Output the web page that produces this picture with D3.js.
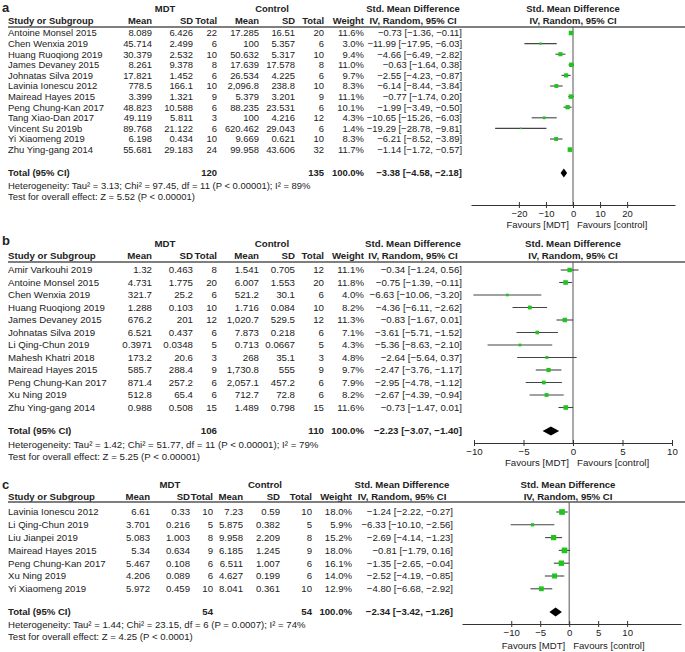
<!DOCTYPE html>
<html>
<head>
<meta charset="utf-8">
<script src="https://d3js.org/d3.v7.min.js"></script>
<style>
  body { margin: 0; background: #fff; }
  svg text { font-family: "Liberation Sans", Arial, sans-serif; fill: #222; }
</style>
</head>
<body>
<div id="chart"></div>
<script>
// ---- panel a data ----
const studiesA = ["Antoine Monsel 2015", "Chen Wenxia 2019", "Huang Ruoqiong 2019", "James Devaney 2015", "Johnatas Silva 2019", "Lavinia Ionescu 2012", "Mairead Hayes 2015", "Peng Chung-Kan 2017", "Tang Xiao-Dan 2017", "Vincent Su 2019b", "Yi Xiaomeng 2019", "Zhu Ying-gang 2014"];
const mdtMeanA = ["8.089", "45.714", "30.379", "8.261", "17.821", "778.5", "3.399", "48.823", "49.119", "89.768", "6.198", "55.681"];
const mdtSdA = ["6.426", "2.499", "2.532", "9.378", "1.452", "166.1", "1.321", "10.588", "5.811", "21.122", "0.434", "29.183"];
const mdtNA = [22, 6, 10, 8, 6, 10, 9, 6, 3, 6, 10, 24];
const ctlMeanA = ["17.285", "100", "50.632", "17.639", "26.534", "2,096.8", "5.379", "88.235", "100", "620.462", "9.669", "99.958"];
const ctlSdA = ["16.51", "5.357", "5.317", "17.578", "4.225", "238.8", "3.201", "23.531", "4.216", "29.043", "0.621", "43.606"];
const ctlNA = [20, 6, 10, 8, 6, 10, 9, 6, 12, 6, 10, 32];
const weightA = [11.6, 3.0, 9.4, 11.0, 9.7, 8.3, 11.1, 10.1, 4.3, 1.4, 8.3, 11.7];
const smdA = [-0.73, -11.99, -4.66, -0.63, -2.55, -6.14, -0.77, -1.99, -10.65, -19.29, -6.21, -1.14];
const loA = [-1.36, -17.95, -6.49, -1.64, -4.23, -8.44, -1.74, -3.49, -15.26, -28.78, -8.52, -1.72];
const hiA = [-0.11, -6.03, -2.82, 0.38, -0.87, -3.84, 0.20, -0.50, -6.03, -9.81, -3.89, -0.57];
const totalA = { mdtN: 120, ctlN: 135, smd: -3.38, lo: -4.58, hi: -2.18 };
const hetA = "Heterogeneity: Tau\u00b2 = 3.13; Chi\u00b2 = 97.45, df = 11 (P < 0.00001); I\u00b2 = 89%";
const testA = "Test for overall effect: Z = 5.52 (P < 0.00001)";
const ticksA = [-20, -10, 0, 10, 20];

// ---- panel b data ----
const studiesB = ["Amir Varkouhi 2019", "Antoine Monsel 2015", "Chen Wenxia 2019", "Huang Ruoqiong 2019", "James Devaney 2015", "Johnatas Silva 2019", "Li Qing-Chun 2019", "Mahesh Khatri 2018", "Mairead Hayes 2015", "Peng Chung-Kan 2017", "Xu Ning 2019", "Zhu Ying-gang 2014"];
const mdtMeanB = ["1.32", "4.731", "321.7", "1.288", "676.2", "6.521", "0.3971", "173.2", "585.7", "871.4", "512.8", "0.988"];
const mdtSdB = ["0.463", "1.775", "25.2", "0.103", "201", "0.437", "0.0348", "20.6", "288.4", "257.2", "65.4", "0.508"];
const mdtNB = [8, 20, 6, 10, 12, 6, 5, 3, 9, 6, 6, 15];
const ctlMeanB = ["1.541", "6.007", "521.2", "1.716", "1,020.7", "7.873", "0.713", "268", "1,730.8", "2,057.1", "712.7", "1.489"];
const ctlSdB = ["0.705", "1.553", "30.1", "0.084", "529.5", "0.218", "0.0667", "35.1", "555", "457.2", "72.8", "0.798"];
const ctlNB = [12, 20, 6, 10, 12, 6, 5, 3, 9, 6, 6, 15];
const weightB = [11.1, 11.8, 4.0, 8.2, 11.3, 7.1, 4.3, 4.8, 9.7, 7.9, 8.2, 11.6];
const smdB = [-0.34, -0.75, -6.63, -4.36, -0.83, -3.61, -5.36, -2.64, -2.47, -2.95, -2.67, -0.73];
const loB = [-1.24, -1.39, -10.06, -6.11, -1.67, -5.71, -8.63, -5.64, -3.76, -4.78, -4.39, -1.47];
const hiB = [0.56, -0.11, -3.20, -2.62, 0.01, -1.52, -2.10, 0.37, -1.17, -1.12, -0.94, 0.01];
const totalB = { mdtN: 106, ctlN: 110, smd: -2.23, lo: -3.07, hi: -1.40 };
const hetB = "Heterogeneity: Tau\u00b2 = 1.42; Chi\u00b2 = 51.77, df = 11 (P < 0.00001); I\u00b2 = 79%";
const testB = "Test for overall effect: Z = 5.25 (P < 0.00001)";
const ticksB = [-10, -5, 0, 5, 10];

// ---- panel c data ----
const studiesC = ["Lavinia Ionescu 2012", "Li Qing-Chun 2019", "Liu Jianpei 2019", "Mairead Hayes 2015", "Peng Chung-Kan 2017", "Xu Ning 2019", "Yi Xiaomeng 2019"];
const mdtMeanC = ["6.61", "3.701", "5.083", "5.34", "5.467", "4.206", "5.972"];
const mdtSdC = ["0.33", "0.216", "1.003", "0.634", "0.108", "0.089", "0.459"];
const mdtNC = [10, 5, 8, 9, 6, 6, 10];
const ctlMeanC = ["7.23", "5.875", "9.958", "6.185", "6.511", "4.627", "8.041"];
const ctlSdC = ["0.59", "0.382", "2.209", "1.245", "1.007", "0.199", "0.361"];
const ctlNC = [10, 5, 8, 9, 6, 6, 10];
const weightC = [18.0, 5.9, 15.2, 18.0, 16.1, 14.0, 12.9];
const smdC = [-1.24, -6.33, -2.69, -0.81, -1.35, -2.52, -4.80];
const loC = [-2.22, -10.10, -4.14, -1.79, -2.65, -4.19, -6.68];
const hiC = [-0.27, -2.56, -1.23, 0.16, -0.04, -0.85, -2.92];
const totalC = { mdtN: 54, ctlN: 54, smd: -2.34, lo: -3.42, hi: -1.26 };
const hetC = "Heterogeneity: Tau\u00b2 = 1.44; Chi\u00b2 = 23.15, df = 6 (P = 0.0007); I\u00b2 = 74%";
const testC = "Test for overall effect: Z = 4.25 (P < 0.0001)";
const ticksC = [-10, -5, 0, 5, 10];

const svg = d3.select("#chart").append("svg")
  .attr("width", 685)
  .attr("height", 652);

const green = "#1fc41f";
const lineCol = "#454545";
const sizeScale = d3.scaleSqrt().domain([0, 20]).range([0, 6]);
const fmt = d3.format(".2f");

function ciText(m, l, h) {
  return `${fmt(m)} [${fmt(l)}, ${fmt(h)}]`;
}

function drawPanel(p) {
  const g = svg.append("g");
  const c = p.cols;
  const fs = p.fs;
  const n = p.studies.length;
  const y = d3.scaleLinear().domain([0, n - 1]).range([p.row0, p.row0 + p.rowStep * (n - 1)]);
  const x = d3.scaleLinear().domain(p.xDomain).range(p.xRange);

  const txt = (tx, ty, s, anchor, bold, size) => g.append("text")
    .attr("x", tx).attr("y", ty).attr("dy", "0.35em")
    .attr("text-anchor", anchor || "start")
    .attr("font-size", (size || fs) + "px")
    .attr("font-weight", bold ? "bold" : "normal")
    .text(s);

  // panel letter and group headings
  txt(2, p.labelY, p.label, "start", true, 13);
  txt(c.mdtHead, p.groupY, "MDT", "middle", true);
  txt(c.ctlHead, p.groupY, "Control", "middle", true);
  txt(c.smdHead, p.groupY, "Std. Mean Difference", "middle", true);
  txt(c.plotHead, p.groupY, "Std. Mean Difference", "middle", true);

  // column headings
  txt(c.study, p.headY, "Study or Subgroup", "start", true);
  txt(c.mMean, p.headY, "Mean", "end", true);
  txt(c.mSd, p.headY, "SD", "end", true);
  txt(c.mN, p.headY, "Total", "end", true);
  txt(c.cMean, p.headY, "Mean", "end", true);
  txt(c.cSd, p.headY, "SD", "end", true);
  txt(c.cN, p.headY, "Total", "end", true);
  txt(c.wt, p.headY, "Weight", "end", true);
  txt(c.smdHead, p.headY, "IV, Random, 95% CI", "middle", true);
  txt(c.plotHead, p.headY, "IV, Random, 95% CI", "middle", true);

  g.append("line")
    .attr("x1", 8).attr("x2", 685)
    .attr("y1", p.lineY).attr("y2", p.lineY)
    .attr("stroke", "#555").attr("stroke-width", 1.4);

  // study rows
  p.studies.forEach((s, i) => {
    const ry = y(i);
    txt(c.study, ry, s);
    txt(c.mMean, ry, p.mdtMean[i], "end");
    txt(c.mSd, ry, p.mdtSd[i], "end");
    txt(c.mN, ry, p.mdtN[i], "end");
    txt(c.cMean, ry, p.ctlMean[i], "end");
    txt(c.cSd, ry, p.ctlSd[i], "end");
    txt(c.cN, ry, p.ctlN[i], "end");
    txt(c.wt, ry, p.weight[i].toFixed(1) + "%", "end");
    txt(c.smd, ry, ciText(p.smd[i], p.lo[i], p.hi[i]), "end");
  });

  // totals
  txt(c.study, p.totalY, "Total (95% CI)", "start", true);
  txt(c.mN, p.totalY, p.total.mdtN, "end", true);
  txt(c.cN, p.totalY, p.total.ctlN, "end", true);
  txt(c.wt, p.totalY, "100.0%", "end", true);
  txt(c.smd, p.totalY, ciText(p.total.smd, p.total.lo, p.total.hi), "end", true);
  txt(c.study, p.hetY, p.het);
  txt(c.study, p.testY, p.test);

  // zero line
  g.append("line")
    .attr("x1", x(0)).attr("x2", x(0))
    .attr("y1", p.lineY).attr("y2", p.axisY)
    .attr("stroke", "#555").attr("stroke-width", 1);

  // CI lines and squares
  g.selectAll(".ci").data(p.studies).enter().append("line")
    .attr("x1", (d, i) => x(p.lo[i]))
    .attr("x2", (d, i) => x(p.hi[i]))
    .attr("y1", (d, i) => y(i)).attr("y2", (d, i) => y(i))
    .attr("stroke", lineCol).attr("stroke-width", 1.1);

  g.selectAll(".sq").data(p.studies).enter().append("rect")
    .attr("x", (d, i) => x(p.smd[i]) - sizeScale(p.weight[i]) / 2)
    .attr("y", (d, i) => y(i) - sizeScale(p.weight[i]) / 2)
    .attr("width", (d, i) => sizeScale(p.weight[i]))
    .attr("height", (d, i) => sizeScale(p.weight[i]))
    .attr("fill", green);

  // pooled diamond
  const t = p.total, dh = 4.5;
  g.append("polygon")
    .attr("points", [
      [x(t.lo), p.totalY], [x(t.smd), p.totalY - dh],
      [x(t.hi), p.totalY], [x(t.smd), p.totalY + dh]
    ].map(q => q.join(",")).join(" "))
    .attr("fill", "#000");

  // axis
  const ax = g.append("g")
    .attr("transform", `translate(0,${p.axisY})`)
    .call(d3.axisBottom(x).tickValues(p.ticks).tickSizeInner(3).tickSizeOuter(0).tickPadding(2));
  ax.select(".domain").attr("stroke", "#333");
  ax.selectAll(".tick line").attr("y1", -3).attr("stroke", "#333");
  ax.selectAll(".tick text")
    .attr("font-size", fs + "px")
    .attr("font-family", "Liberation Sans, Arial, sans-serif")
    .attr("fill", "#222");

  txt(x(0) - 4, p.favY, "Favours [MDT]", "end");
  txt(x(0) + 4, p.favY, "Favours [control]", "start");
}

const colsAB = { study: 8, mMean: 152, mSd: 193, mN: 217, cMean: 259, cSd: 295, cN: 324, wt: 364, smd: 462, smdHead: 413, plotHead: 573, mdtHead: 165, ctlHead: 272 };
const colsC = { study: 8, mMean: 150, mSd: 190, mN: 213, cMean: 243, cSd: 280, cN: 312, wt: 352, smd: 453, smdHead: 402, plotHead: 568, mdtHead: 170, ctlHead: 265 };

drawPanel({
  label: "a", cols: colsAB, fs: 9.45,
  studies: studiesA, mdtMean: mdtMeanA, mdtSd: mdtSdA, mdtN: mdtNA,
  ctlMean: ctlMeanA, ctlSd: ctlSdA, ctlN: ctlNA, weight: weightA,
  smd: smdA, lo: loA, hi: hiA, total: totalA, het: hetA, test: testA, ticks: ticksA,
  xDomain: [-37.7, 37.7], xRange: [471, 675],
  labelY: 7, groupY: 9, headY: 21, lineY: 27, row0: 33, rowStep: 10.6,
  totalY: 173, hetY: 186, testY: 197, axisY: 205, favY: 225
});

drawPanel({
  label: "b", cols: colsAB, fs: 9.7,
  studies: studiesB, mdtMean: mdtMeanB, mdtSd: mdtSdB, mdtN: mdtNB,
  ctlMean: ctlMeanB, ctlSd: ctlSdB, ctlN: ctlNB, weight: weightB,
  smd: smdB, lo: loB, hi: hiB, total: totalB, het: hetB, test: testB, ticks: ticksB,
  xDomain: [-10, 10], xRange: [474, 672],
  labelY: 240, groupY: 244, headY: 256, lineY: 262, row0: 270, rowStep: 12.5,
  totalY: 431, hetY: 445, testY: 457, axisY: 443, favY: 463
});

drawPanel({
  label: "c", cols: colsC, fs: 9.6,
  studies: studiesC, mdtMean: mdtMeanC, mdtSd: mdtSdC, mdtN: mdtNC,
  ctlMean: ctlMeanC, ctlSd: ctlSdC, ctlN: ctlNC, weight: weightC,
  smd: smdC, lo: loC, hi: hiC, total: totalC, het: hetC, test: testC, ticks: ticksC,
  xDomain: [-18.5, 19.3], xRange: [462, 681],
  labelY: 484, groupY: 485, headY: 497, lineY: 502, row0: 512, rowStep: 12.8,
  totalY: 612, hetY: 625, testY: 637, axisY: 624, favY: 646
});
</script>
</body>
</html>
